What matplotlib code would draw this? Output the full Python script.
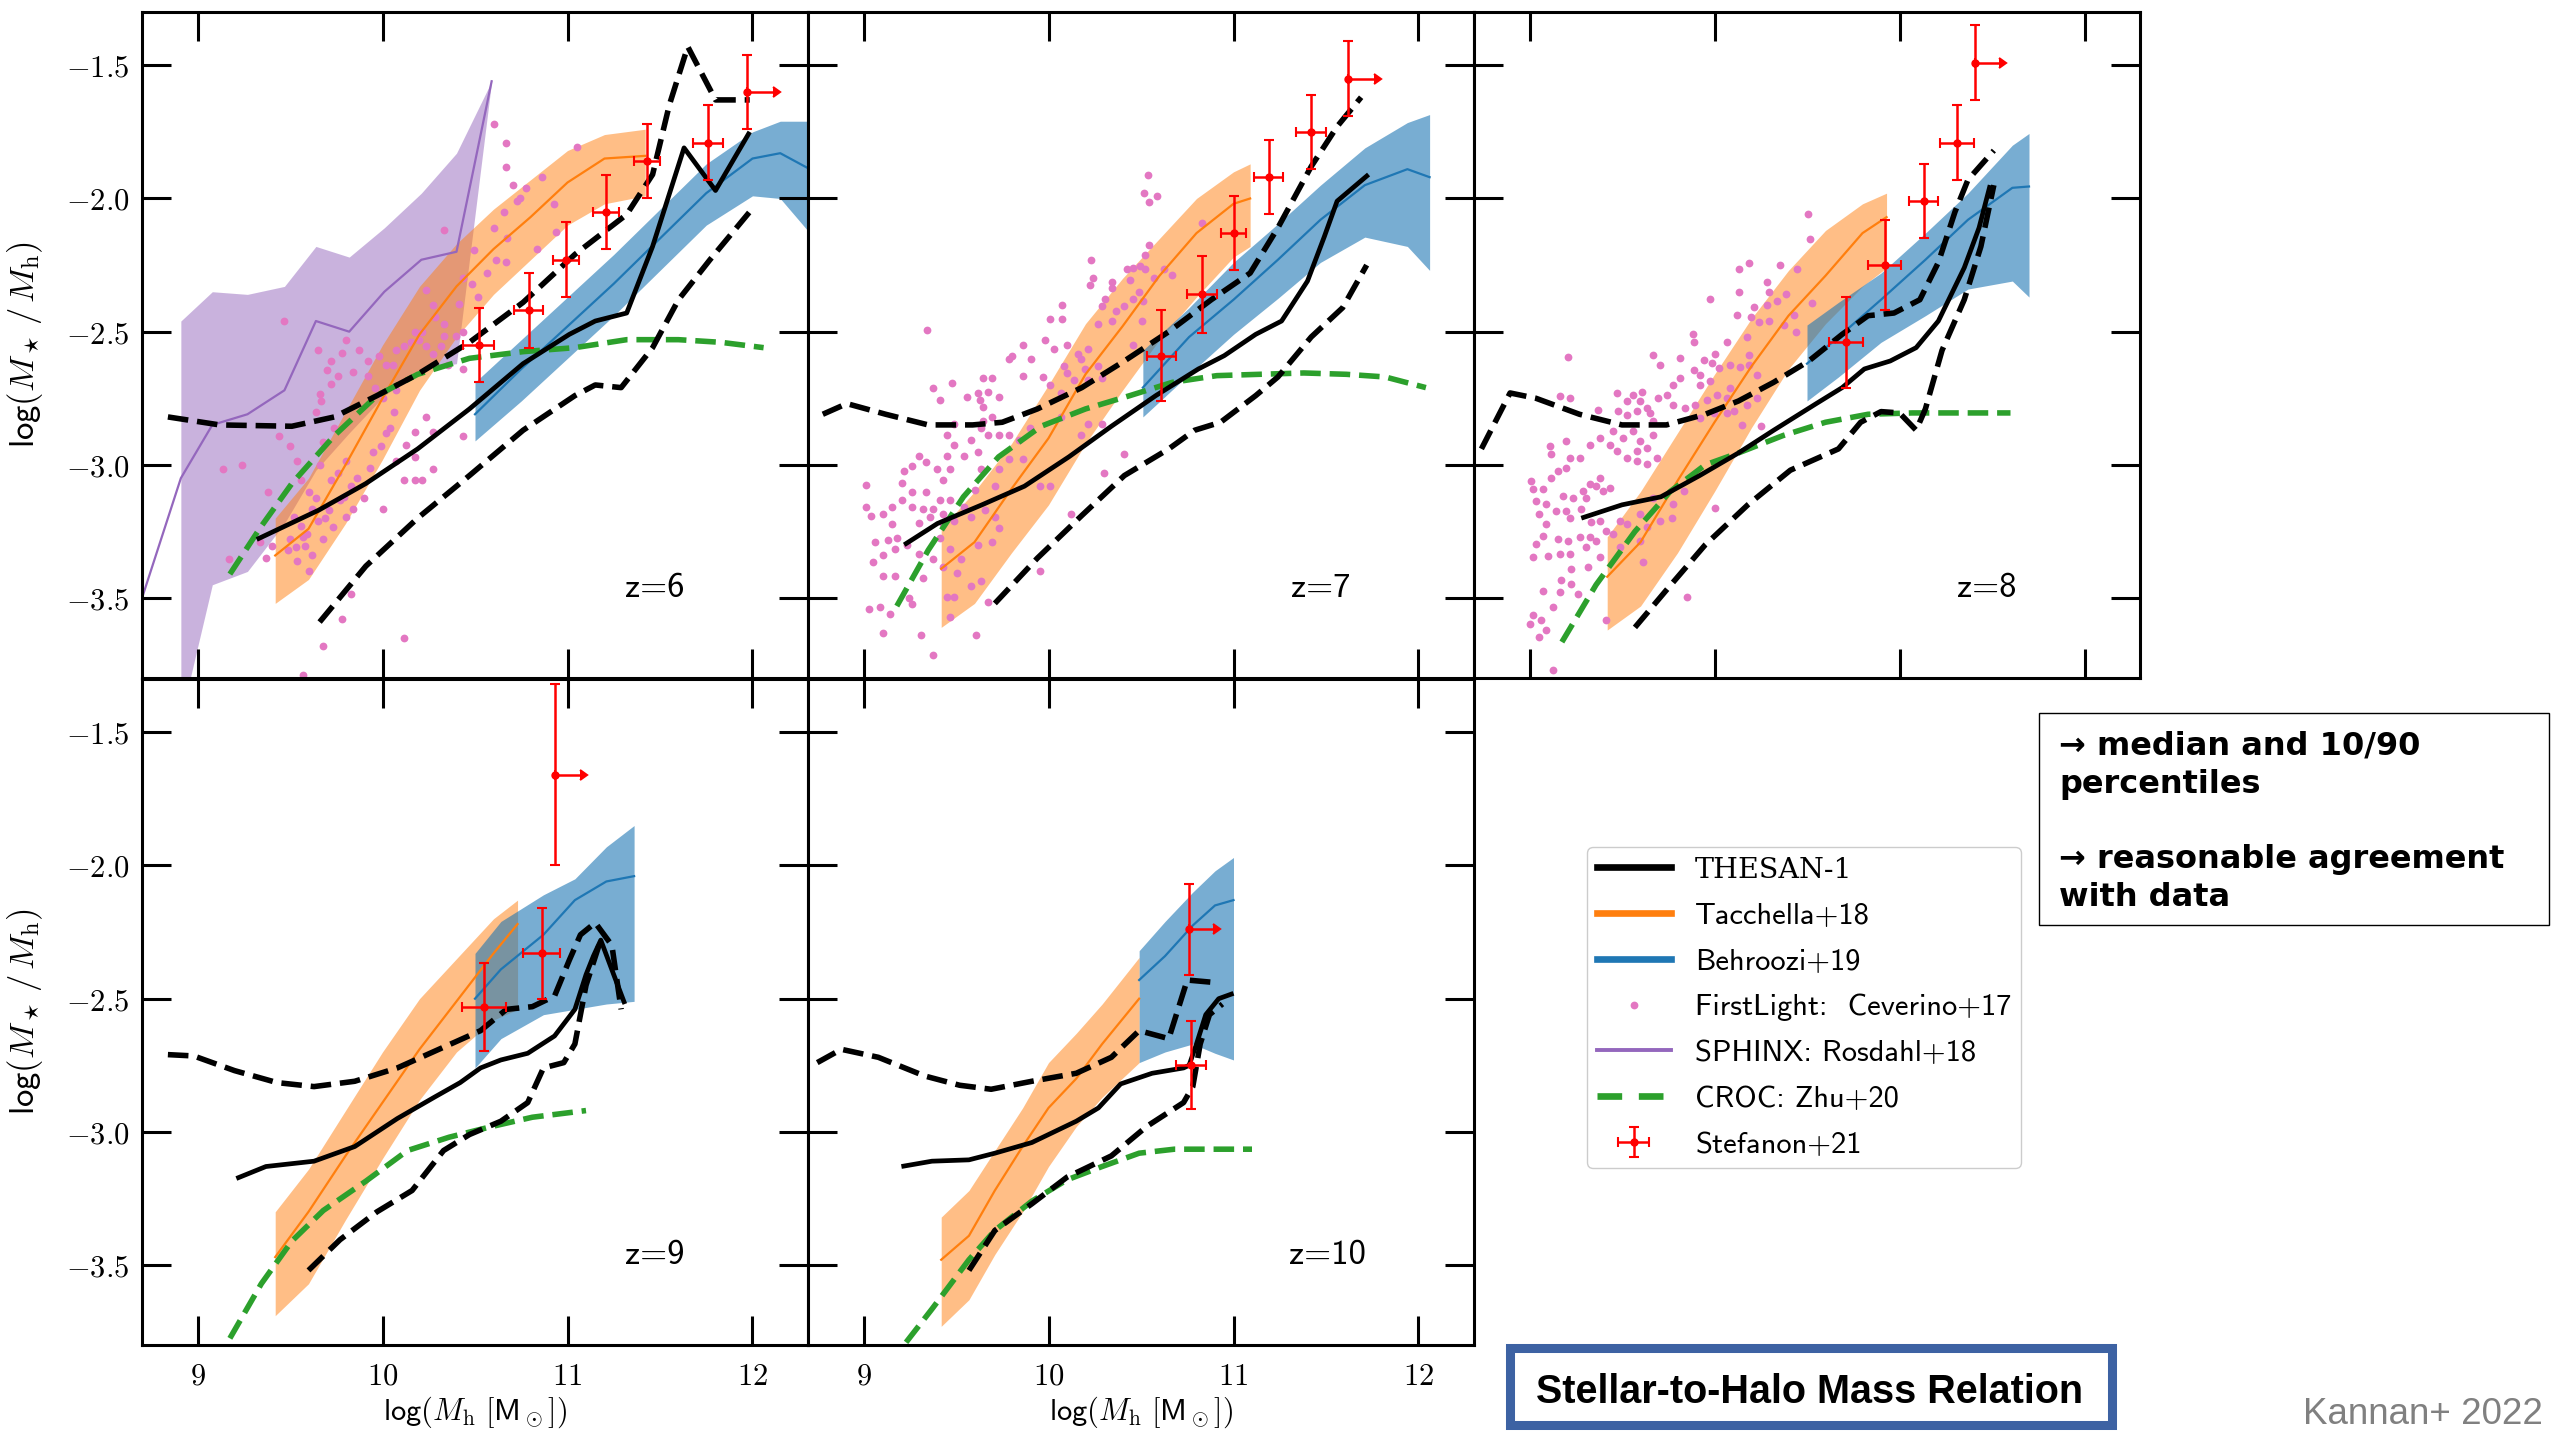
import matplotlib
matplotlib.use("Agg")
import matplotlib.pyplot as plt
from matplotlib.lines import Line2D
from matplotlib.patches import Rectangle

plt.rcParams['mathtext.fontset'] = 'cm'

# ============================ DATA ============================
redshifts = [6, 7, 8, 9, 10]
x_ticks = [9, 10, 11, 12]
x_ticklabels = ['$9$', '$10$', '$11$', '$12$']
y_ticks = [-3.5, -3.0, -2.5, -2.0, -1.5]
y_ticklabels = ['$-3.5$', '$-3.0$', '$-2.5$', '$-2.0$', '$-1.5$']

# --- THESAN-1 median and 10/90 percentiles ---
z6_med_x = [9.32, 9.655, 9.91, 10.19, 10.47, 10.76, 11.01, 11.15, 11.32, 11.46, 11.63, 11.80, 11.985]
z6_med_y = [-3.28, -3.17, -3.07, -2.94, -2.79, -2.62, -2.51, -2.46, -2.43, -2.18, -1.81, -1.97, -1.75]
z6_p90_x = [8.84, 9.12, 9.51, 9.74, 9.97, 10.19, 10.47, 10.76, 11.04, 11.32, 11.46, 11.55, 11.65, 11.80, 11.985]
z6_p90_y = [-2.82, -2.85, -2.855, -2.82, -2.74, -2.66, -2.54, -2.39, -2.21, -2.06, -1.91, -1.65, -1.43, -1.63, -1.63]
z6_p10_x = [9.66, 9.91, 10.19, 10.47, 10.76, 11.04, 11.15, 11.29, 11.46, 11.60, 11.77, 11.985]
z6_p10_y = [-3.59, -3.38, -3.20, -3.04, -2.87, -2.74, -2.70, -2.71, -2.56, -2.38, -2.23, -2.05]

z7_med_x = [9.22, 9.40, 9.64, 9.87, 10.11, 10.34, 10.58, 10.81, 10.95, 11.12, 11.26, 11.40, 11.49, 11.56, 11.73]
z7_med_y = [-3.30, -3.22, -3.15, -3.08, -2.97, -2.855, -2.74, -2.64, -2.59, -2.51, -2.46, -2.31, -2.145, -2.01, -1.91]
z7_p90_x = [8.78, 8.91, 9.12, 9.35, 9.59, 9.75, 9.94, 10.18, 10.41, 10.65, 10.88, 11.09, 11.24, 11.42, 11.56, 11.69]
z7_p90_y = [-2.81, -2.77, -2.81, -2.85, -2.85, -2.84, -2.79, -2.71, -2.61, -2.50, -2.38, -2.28, -2.11, -1.88, -1.73, -1.62]
z7_p10_x = [9.71, 9.94, 10.18, 10.41, 10.65, 10.79, 10.93, 11.12, 11.24, 11.42, 11.59, 11.72]
z7_p10_y = [-3.52, -3.35, -3.19, -3.04, -2.94, -2.87, -2.84, -2.74, -2.67, -2.52, -2.41, -2.25]

z8_med_x = [9.28, 9.50, 9.71, 9.92, 10.13, 10.32, 10.55, 10.69, 10.81, 10.95, 11.09, 11.21, 11.35, 11.43, 11.49]
z8_med_y = [-3.20, -3.15, -3.12, -3.04, -2.955, -2.87, -2.77, -2.71, -2.64, -2.61, -2.56, -2.46, -2.26, -2.11, -1.95]
z8_p90_x = [8.74, 8.895, 9.035, 9.27, 9.50, 9.74, 9.95, 10.13, 10.32, 10.51, 10.69, 10.83, 10.97, 11.11, 11.21, 11.30, 11.37, 11.51]
z8_p90_y = [-2.94, -2.73, -2.75, -2.81, -2.85, -2.85, -2.81, -2.76, -2.69, -2.61, -2.51, -2.44, -2.43, -2.38, -2.24, -2.05, -1.93, -1.82]
z8_p10_x = [9.57, 9.74, 9.95, 10.18, 10.41, 10.67, 10.79, 10.90, 11.00, 11.09, 11.14, 11.23, 11.35, 11.44, 11.51]
z8_p10_y = [-3.61, -3.47, -3.30, -3.15, -3.02, -2.94, -2.84, -2.80, -2.805, -2.87, -2.79, -2.57, -2.38, -2.18, -1.95]

z9_med_x = [9.21, 9.37, 9.63, 9.85, 10.08, 10.28, 10.42, 10.53, 10.64, 10.785, 10.93, 11.04, 11.10, 11.14, 11.18, 11.25, 11.31]
z9_med_y = [-3.175, -3.13, -3.11, -3.055, -2.95, -2.87, -2.815, -2.76, -2.73, -2.705, -2.64, -2.54, -2.41, -2.34, -2.28, -2.41, -2.52]
z9_p90_x = [8.84, 8.98, 9.20, 9.43, 9.63, 9.85, 10.08, 10.305, 10.53, 10.67, 10.81, 10.93, 11.01, 11.07, 11.15, 11.24, 11.29]
z9_p90_y = [-2.71, -2.715, -2.77, -2.815, -2.83, -2.81, -2.76, -2.69, -2.62, -2.54, -2.53, -2.49, -2.355, -2.26, -2.215, -2.30, -2.54]
z9_p10_x = [9.60, 9.77, 9.97, 10.16, 10.33, 10.47, 10.64, 10.785, 10.87, 10.98, 11.04, 11.10, 11.17]
z9_p10_y = [-3.52, -3.405, -3.30, -3.22, -3.07, -3.01, -2.96, -2.89, -2.76, -2.74, -2.67, -2.45, -2.30]

z10_med_x = [9.205, 9.37, 9.57, 9.71, 9.91, 10.15, 10.27, 10.39, 10.56, 10.73, 10.76, 10.80, 10.85, 10.92, 11.0]
z10_med_y = [-3.13, -3.11, -3.105, -3.08, -3.04, -2.96, -2.91, -2.82, -2.78, -2.76, -2.75, -2.67, -2.56, -2.50, -2.48]
z10_p90_x = [8.75, 8.88, 9.08, 9.33, 9.52, 9.69, 9.91, 10.15, 10.34, 10.49, 10.65, 10.70, 10.75, 10.91]
z10_p90_y = [-2.74, -2.69, -2.72, -2.79, -2.825, -2.84, -2.81, -2.78, -2.72, -2.62, -2.65, -2.54, -2.43, -2.44]
z10_p10_x = [9.57, 9.71, 9.91, 10.10, 10.34, 10.53, 10.73, 10.78, 10.82, 10.87, 10.94]
z10_p10_y = [-3.52, -3.37, -3.27, -3.17, -3.09, -2.98, -2.89, -2.83, -2.67, -2.56, -2.52]

# --- Tacchella+18 (median and band) ---
tac_z6_x = [9.42, 9.6, 9.8, 10.0, 10.2, 10.4, 10.6, 10.8, 11.0, 11.2, 11.42]
tac_z6_med = [-3.34, -3.24, -3.00, -2.75, -2.51, -2.33, -2.19, -2.07, -1.94, -1.85, -1.84]
tac_z6_hi = [-3.20, -3.05, -2.80, -2.55, -2.33, -2.17, -2.04, -1.93, -1.82, -1.76, -1.74]
tac_z6_lo = [-3.52, -3.43, -3.22, -2.98, -2.72, -2.52, -2.36, -2.23, -2.10, -2.02, -1.99]
tac_z7_x = [9.42, 9.6, 9.8, 10.0, 10.2, 10.4, 10.6, 10.8, 11.0, 11.09]
tac_z7_med = [-3.39, -3.29, -3.09, -2.90, -2.66, -2.48, -2.29, -2.13, -2.02, -2.00]
tac_z7_hi = [-3.24, -3.10, -2.92, -2.70, -2.47, -2.30, -2.15, -2.00, -1.90, -1.87]
tac_z7_lo = [-3.61, -3.52, -3.33, -3.15, -2.92, -2.72, -2.53, -2.37, -2.22, -2.18]
tac_z8_x = [9.42, 9.6, 9.8, 10.0, 10.2, 10.4, 10.6, 10.8, 10.93]
tac_z8_med = [-3.42, -3.29, -3.06, -2.84, -2.63, -2.44, -2.29, -2.13, -2.07]
tac_z8_hi = [-3.27, -3.10, -2.88, -2.66, -2.45, -2.27, -2.12, -2.02, -1.98]
tac_z8_lo = [-3.62, -3.53, -3.33, -3.10, -2.86, -2.64, -2.47, -2.33, -2.26]
tac_z9_x = [9.42, 9.6, 9.8, 10.0, 10.2, 10.4, 10.6, 10.73]
tac_z9_med = [-3.47, -3.30, -3.09, -2.89, -2.69, -2.51, -2.33, -2.22]
tac_z9_hi = [-3.30, -3.14, -2.92, -2.70, -2.50, -2.35, -2.20, -2.13]
tac_z9_lo = [-3.69, -3.57, -3.33, -3.10, -2.88, -2.70, -2.58, -2.54]
tac_z10_x = [9.42, 9.57, 9.71, 9.86, 10.0, 10.15, 10.29, 10.49]
tac_z10_med = [-3.48, -3.39, -3.22, -3.055, -2.91, -2.80, -2.67, -2.50]
tac_z10_hi = [-3.32, -3.22, -3.07, -2.91, -2.74, -2.63, -2.52, -2.345]
tac_z10_lo = [-3.73, -3.63, -3.46, -3.30, -3.13, -2.98, -2.87, -2.74]

# --- Behroozi+19 (median and band) ---
beh_z6_x = [10.5, 10.75, 11.0, 11.25, 11.5, 11.75, 12.0, 12.15, 12.31]
beh_z6_med = [-2.81, -2.64, -2.48, -2.32, -2.15, -1.98, -1.85, -1.83, -1.89]
beh_z6_hi = [-2.69, -2.53, -2.37, -2.21, -2.04, -1.87, -1.75, -1.71, -1.71]
beh_z6_lo = [-2.91, -2.76, -2.60, -2.44, -2.27, -2.10, -1.99, -2.00, -2.13]
beh_z7_x = [10.51, 10.76, 11.0, 11.24, 11.47, 11.71, 11.94, 12.06]
beh_z7_med = [-2.71, -2.52, -2.38, -2.23, -2.08, -1.95, -1.89, -1.92]
beh_z7_hi = [-2.57, -2.41, -2.24, -2.095, -1.95, -1.81, -1.715, -1.685]
beh_z7_lo = [-2.82, -2.66, -2.51, -2.375, -2.24, -2.145, -2.18, -2.27]
beh_z8_x = [10.50, 10.67, 10.90, 11.14, 11.37, 11.61, 11.70]
beh_z8_med = [-2.62, -2.52, -2.38, -2.23, -2.08, -1.96, -1.955]
beh_z8_hi = [-2.475, -2.39, -2.28, -2.13, -1.98, -1.80, -1.756]
beh_z8_lo = [-2.76, -2.67, -2.54, -2.44, -2.34, -2.31, -2.37]
beh_z9_x = [10.50, 10.64, 10.87, 11.04, 11.21, 11.36]
beh_z9_med = [-2.50, -2.39, -2.26, -2.13, -2.06, -2.04]
beh_z9_hi = [-2.33, -2.21, -2.11, -2.05, -1.93, -1.85]
beh_z9_lo = [-2.76, -2.65, -2.56, -2.54, -2.52, -2.51]
beh_z10_x = [10.49, 10.63, 10.78, 10.90, 11.0]
beh_z10_med = [-2.43, -2.34, -2.225, -2.15, -2.13]
beh_z10_hi = [-2.32, -2.21, -2.10, -2.02, -1.97]
beh_z10_lo = [-2.74, -2.70, -2.67, -2.705, -2.73]

# --- CROC: Zhu+20 ---
croc_z6_x = [9.175, 9.34, 9.51, 9.74, 9.97, 10.19, 10.47, 10.76, 11.04, 11.32, 11.60, 11.83, 12.06]
croc_z6_y = [-3.41, -3.235, -3.07, -2.89, -2.74, -2.66, -2.60, -2.575, -2.56, -2.53, -2.53, -2.54, -2.56]
croc_z7_x = [9.18, 9.35, 9.54, 9.73, 9.96, 10.20, 10.44, 10.67, 10.91, 11.14, 11.38, 11.61, 11.82, 12.04]
croc_z7_y = [-3.53, -3.32, -3.12, -2.97, -2.855, -2.79, -2.74, -2.69, -2.665, -2.66, -2.655, -2.66, -2.67, -2.71]
croc_z8_x = [9.175, 9.36, 9.57, 9.76, 9.95, 10.13, 10.37, 10.60, 10.83, 11.07, 11.30, 11.60]
croc_z8_y = [-3.665, -3.45, -3.25, -3.10, -3.00, -2.955, -2.89, -2.84, -2.81, -2.805, -2.805, -2.805]
croc_z9_x = [9.175, 9.345, 9.51, 9.68, 9.91, 10.135, 10.36, 10.59, 10.81, 11.10]
croc_z9_y = [-3.775, -3.57, -3.41, -3.295, -3.185, -3.07, -3.02, -2.98, -2.945, -2.92]
croc_z10_x = [9.23, 9.37, 9.57, 9.71, 9.91, 10.10, 10.29, 10.49, 10.68, 10.87, 11.10]
croc_z10_y = [-3.79, -3.665, -3.48, -3.37, -3.26, -3.18, -3.13, -3.08, -3.065, -3.065, -3.065]

# --- SPHINX: Rosdahl+18 (z=6 only) ---
sphinx_x = [8.70, 8.91, 9.08, 9.27, 9.47, 9.64, 9.82, 10.01, 10.21, 10.40, 10.59]
sphinx_y = [-3.50, -3.05, -2.85, -2.81, -2.72, -2.46, -2.50, -2.35, -2.23, -2.20, -1.56]
sphinx_band_x = [8.91, 9.08, 9.27, 9.47, 9.64, 9.82, 10.01, 10.21, 10.40, 10.59]
sphinx_hi = [-2.46, -2.35, -2.36, -2.33, -2.18, -2.22, -2.11, -1.98, -1.83, -1.56]
sphinx_lo = [-3.95, -3.45, -3.40, -3.22, -3.02, -2.88, -2.74, -2.64, -2.62, -1.56]

# --- Stefanon+21 ---
ste_z6_x = [10.52, 10.79, 10.99, 11.21, 11.43, 11.76]
ste_z6_y = [-2.55, -2.42, -2.23, -2.05, -1.86, -1.79]
ste_z6_xerr = [0.085, 0.08, 0.07, 0.07, 0.07, 0.08]
ste_z6_yerr = [0.14, 0.14, 0.14, 0.14, 0.14, 0.14]
ste_z6_lim = [11.97, -1.60, 0.14, 0.14]       # x, y, arrow length, yerr
ste_z7_x = [10.61, 10.83, 11.00, 11.19, 11.42]
ste_z7_y = [-2.59, -2.36, -2.13, -1.92, -1.75]
ste_z7_xerr = [0.08, 0.08, 0.07, 0.08, 0.08]
ste_z7_yerr = [0.17, 0.145, 0.14, 0.14, 0.14]
ste_z7_lim = [11.62, -1.55, 0.14, 0.14]
ste_z8_x = [10.71, 10.92, 11.13, 11.31]
ste_z8_y = [-2.54, -2.25, -2.01, -1.79]
ste_z8_xerr = [0.09, 0.09, 0.08, 0.09]
ste_z8_yerr = [0.17, 0.17, 0.14, 0.14]
ste_z8_lim = [11.41, -1.49, 0.13, 0.14]
ste_z9_x = [10.55, 10.86]
ste_z9_y = [-2.53, -2.33]
ste_z9_xerr = [0.12, 0.10]
ste_z9_yerr = [0.165, 0.17]
ste_z9_lim = [10.935, -1.66, 0.13, 0.34]
ste_z10_x = [10.77]
ste_z10_y = [-2.75]
ste_z10_xerr = [0.08]
ste_z10_yerr = [0.165]
ste_z10_lim = [10.76, -2.24, 0.13, 0.17]

# --- FirstLight: Ceverino+17 (z=6,7,8) ---
fl_z6_x = [10.605, 10.665, 11.05, 10.67, 10.705, 10.86, 10.775, 10.745, 10.725, 10.655,
           10.925, 10.33, 10.605, 10.94, 10.675, 10.835, 10.615, 10.665, 10.495, 10.565,
           10.485, 10.435, 10.515, 10.415, 10.235, 10.275, 10.335, 10.285, 9.47, 9.80,
           9.65, 9.72, 9.78, 9.875, 9.92, 9.98, 10.02, 10.075, 10.115, 10.155,
           10.195, 10.235, 10.275, 10.315, 10.335, 10.395, 10.435, 10.175, 10.215, 10.055,
           9.92, 9.84, 9.76, 9.70, 9.72, 9.66, 9.67, 9.64, 9.96, 10.0,
           10.075, 10.355, 10.435, 10.06, 10.04, 10.02, 9.99, 9.95, 9.93, 9.86,
           9.83, 9.79, 9.77, 9.71, 9.69, 9.65, 9.59, 9.57, 9.53, 9.49,
           10.235, 10.175, 10.275, 10.125, 10.175, 10.075, 10.115, 10.175, 10.215, 10.0,
           9.90, 9.72, 9.76, 9.66, 9.80, 9.68, 9.74, 9.44, 9.50, 9.54,
           9.56, 9.60, 9.64, 9.62, 9.52, 9.56, 9.50, 9.58, 9.54, 9.60,
           9.62, 9.68, 9.73, 9.80, 9.84, 9.38, 9.40, 9.34, 9.37, 9.17,
           9.14, 9.24, 10.435, 10.275, 10.115, 9.68, 9.57, 9.78, 9.83]
fl_z6_y = [-1.72, -1.79, -1.805, -1.88, -1.95, -1.92, -1.96, -2.00, -2.01, -2.05,
           -2.02, -2.12, -2.11, -2.125, -2.15, -2.19, -2.23, -2.24, -2.195, -2.28,
           -2.32, -2.30, -2.37, -2.395, -2.345, -2.40, -2.47, -2.445, -2.46, -2.53,
           -2.57, -2.61, -2.58, -2.57, -2.61, -2.59, -2.625, -2.57, -2.555, -2.54,
           -2.53, -2.555, -2.585, -2.555, -2.515, -2.515, -2.50, -2.50, -2.50, -2.625,
           -2.665, -2.65, -2.665, -2.645, -2.695, -2.735, -2.76, -2.80, -2.71, -2.75,
           -2.72, -2.625, -2.64, -2.80, -2.86, -2.88, -2.93, -2.95, -3.01, -3.05,
           -3.08, -3.12, -3.13, -3.17, -3.20, -3.21, -3.26, -3.27, -3.31, -3.32,
           -2.82, -2.875, -2.875, -2.925, -2.97, -2.985, -3.055, -3.055, -3.055, -3.165,
           -3.125, -3.055, -3.03, -3.0, -2.985, -2.915, -2.86, -2.89, -2.93, -2.985,
           -3.055, -3.10, -3.125, -3.165, -3.195, -3.23, -3.28, -3.305, -3.36, -3.40,
           -3.34, -3.28, -3.235, -3.195, -3.165, -3.10, -3.305, -3.29, -3.35, -3.355,
           -3.015, -3.0, -2.89, -3.015, -3.65, -3.68, -3.79, -3.58, -3.485]
fl_z7_x = [10.536, 10.518, 10.586, 10.544, 9.343, 10.829, 10.545, 10.521, 10.229, 10.242,
           10.223, 10.341, 10.344, 10.424, 10.456, 10.493, 10.521, 10.627, 10.670, 10.568,
           10.443, 10.488, 10.456, 10.512, 10.307, 10.289, 10.074, 10.009, 10.074, 10.363,
           10.410, 10.270, 10.344, 10.503, 10.456, 9.981, 10.028, 10.102, 10.158, 10.177,
           10.214, 10.195, 10.214, 10.270, 10.289, 10.084, 9.860, 9.804, 9.786, 9.907,
           9.972, 9.860, 10.009, 10.065, 10.102, 10.140, 9.646, 9.693, 9.376, 9.479,
           9.562, 9.618, 9.628, 9.674, 9.730, 9.646, 9.693, 9.646, 9.637, 9.674,
           9.488, 9.413, 9.451, 9.581, 9.730, 9.786, 9.842, 9.898, 10.065, 10.214,
           10.177, 10.289, 10.410, 10.298, 10.121, 9.953, 10.009, 9.953, 9.860, 9.786,
           9.730, 9.711, 9.618, 9.637, 9.544, 9.488, 9.451, 9.469, 9.432, 9.395,
           9.339, 9.302, 9.264, 9.218, 9.209, 9.264, 9.339, 9.413, 9.469, 9.209,
           9.153, 9.264, 9.320, 9.376, 9.432, 9.013, 9.013, 9.041, 9.106, 9.060,
           9.134, 9.181, 9.153, 9.302, 9.358, 9.432, 9.488, 9.544, 9.600, 9.655,
           9.711, 9.730, 9.693, 9.618, 9.581, 9.525, 9.469, 9.413, 9.376, 9.302,
           9.236, 9.171, 9.106, 9.050, 9.106, 9.171, 9.320, 9.432, 9.506, 9.581,
           9.637, 9.674, 9.488, 9.469, 9.264, 9.246, 9.143, 9.088, 9.032, 9.106,
           9.311, 9.376, 9.609, 9.451]
fl_z7_y = [-1.911, -1.978, -1.992, -2.014, -2.495, -2.092, -2.176, -2.212, -2.230, -2.299,
           -2.325, -2.312, -2.337, -2.266, -2.260, -2.253, -2.264, -2.266, -2.286, -2.299,
           -2.305, -2.350, -2.376, -2.383, -2.376, -2.402, -2.398, -2.451, -2.451, -2.422,
           -2.402, -2.473, -2.460, -2.460, -2.551, -2.531, -2.564, -2.551, -2.583, -2.603,
           -2.564, -2.641, -2.680, -2.628, -2.674, -2.628, -2.551, -2.590, -2.603, -2.603,
           -2.671, -2.665, -2.700, -2.732, -2.654, -2.680, -2.674, -2.674, -2.712, -2.693,
           -2.745, -2.732, -2.758, -2.725, -2.745, -2.784, -2.822, -2.835, -2.861, -2.887,
           -2.848, -2.758, -2.887, -2.906, -2.887, -2.887, -2.906, -2.861, -2.822, -2.848,
           -2.887, -2.848, -2.958, -3.029, -3.184, -3.398, -3.081, -3.081, -2.977, -2.977,
           -3.016, -3.081, -2.952, -3.016, -2.965, -2.926, -2.965, -3.016, -3.055, -3.016,
           -2.990, -2.965, -3.003, -3.023, -3.068, -3.100, -3.100, -3.133, -3.133, -3.133,
           -3.159, -3.159, -3.165, -3.165, -3.184, -3.074, -3.159, -3.191, -3.184, -3.288,
           -3.281, -3.275, -3.223, -3.217, -3.197, -3.223, -3.210, -3.159, -3.094, -3.171,
           -3.197, -3.236, -3.288, -3.301, -3.197, -3.353, -3.314, -3.275, -3.353, -3.333,
           -3.301, -3.314, -3.340, -3.365, -3.417, -3.417, -3.424, -3.385, -3.404, -3.456,
           -3.437, -3.514, -3.495, -3.572, -3.521, -3.501, -3.560, -3.534, -3.540, -3.630,
           -3.637, -3.715, -3.637, -3.495]
fl_z8_x = [10.506, 10.515, 10.186, 10.131, 10.354, 10.444, 9.977, 10.131, 10.285, 10.294,
           10.385, 10.339, 10.213, 10.285, 10.529, 10.122, 10.195, 10.240, 10.294, 10.430,
           10.376, 10.439, 9.883, 9.887, 10.005, 10.068, 10.176, 9.208, 9.670, 9.706,
           9.814, 9.941, 9.986, 9.887, 9.923, 9.923, 9.977, 10.023, 10.086, 10.140,
           10.186, 10.186, 10.231, 10.086, 10.068, 10.014, 9.959, 9.814, 9.778, 9.742,
           9.697, 9.633, 9.597, 9.561, 9.525, 9.471, 9.606, 9.163, 9.217, 9.371,
           9.480, 9.525, 9.579, 9.652, 9.670, 9.778, 9.842, 9.896, 9.923, 9.995,
           10.068, 10.104, 10.176, 10.231, 10.149, 10.249, 9.452, 9.434, 9.471, 9.507,
           9.561, 9.597, 9.579, 9.633, 9.670, 9.688, 9.579, 9.633, 9.525, 9.380,
           9.326, 9.199, 9.109, 9.118, 9.217, 9.271, 9.199, 9.154, 9.118, 9.072,
           9.018, 9.009, 9.036, 9.090, 9.181, 9.235, 9.290, 9.326, 9.380, 9.362,
           9.398, 9.434, 9.308, 9.281, 9.199, 9.145, 9.090, 9.054, 9.217, 9.335,
           9.380, 9.416, 9.326, 9.271, 9.208, 9.154, 9.072, 9.036, 9.018, 9.100,
           9.163, 9.217, 9.308, 9.362, 9.452, 9.489, 9.525, 9.597, 9.633, 9.706,
           9.769, 9.597, 9.489, 9.380, 9.317, 9.226, 9.172, 9.226, 9.262, 9.163,
           9.072, 9.127, 9.018, 9.063, 9.000, 9.090, 9.054, 9.127, 9.615, 9.851,
           10.005, 9.416, 9.670, 9.778, 9.833]
fl_z8_y = [-2.059, -2.152, -2.242, -2.264, -2.249, -2.264, -2.378, -2.351, -2.314, -2.351,
           -2.357, -2.386, -2.407, -2.401, -2.391, -2.438, -2.444, -2.463, -2.461, -2.438,
           -2.476, -2.500, -2.510, -2.538, -2.585, -2.538, -2.519, -2.594, -2.588, -2.625,
           -2.600, -2.606, -2.619, -2.644, -2.662, -2.700, -2.687, -2.637, -2.625, -2.631,
           -2.588, -2.625, -2.662, -2.712, -2.749, -2.737, -2.756, -2.675, -2.700, -2.737,
           -2.749, -2.787, -2.762, -2.737, -2.762, -2.731, -2.725, -2.743, -2.749, -2.793,
           -2.799, -2.812, -2.799, -2.806, -2.837, -2.774, -2.787, -2.774, -2.824, -2.806,
           -2.806, -2.799, -2.774, -2.749, -2.849, -2.855, -2.874, -2.924, -2.949, -2.899,
           -2.874, -2.911, -2.949, -2.936, -2.886, -2.974, -2.986, -2.998, -2.974, -2.899,
           -2.924, -2.911, -2.930, -2.961, -2.974, -2.974, -3.011, -3.023, -3.048, -3.092,
           -3.092, -3.061, -3.135, -3.148, -3.117, -3.123, -3.098, -3.073, -3.048, -3.079,
           -3.098, -3.086, -3.123, -3.167, -3.173, -3.173, -3.223, -3.185, -3.198, -3.216,
           -3.210, -3.247, -3.272, -3.272, -3.285, -3.279, -3.266, -3.297, -3.347, -3.341,
           -3.335, -3.335, -3.310, -3.285, -3.260, -3.210, -3.223, -3.185, -3.235, -3.210,
           -3.198, -3.285, -3.310, -3.347, -3.384, -3.391, -3.434, -3.447, -3.484, -3.478,
           -3.472, -3.534, -3.565, -3.584, -3.596, -3.621, -3.646, -3.770, -3.366, -3.497,
           -3.160, -3.584, -3.123, -3.148, -3.098]

legend_labels = ['THESAN-1', 'Tacchella+18', 'Behroozi+19', 'FirstLight:  Ceverino+17',
                 'SPHINX: Rosdahl+18', 'CROC: Zhu+20', 'Stefanon+21']
note_text = "\u2192 median and 10/90\npercentiles\n\n\u2192 reasonable agreement\nwith data"
title_text = "Stellar-to-Halo Mass Relation"
credit_text = "Kannan+ 2022"

# ============================ FIGURE ============================
FW, FH = 2552, 1440
fig = plt.figure(figsize=(FW / 100, FH / 100), dpi=100)
fig.patch.set_facecolor('white')

panel_w = 666 / FW
panel_h = 666 / FH
col_left = [142 / FW, 808 / FW, 1474 / FW]
row_bottom = [1 - 678 / FH, 1 - 1345 / FH]
layout = {6: (0, 0), 7: (0, 1), 8: (0, 2), 9: (1, 0), 10: (1, 1)}

G = globals()
err_handle = None
for z in redshifts:
    r, c = layout[z]
    ax = fig.add_axes([col_left[c], row_bottom[r], panel_w, panel_h])
    k = 'z%d' % z

    # bands
    if z == 6:
        ax.fill_between(sphinx_band_x, sphinx_lo, sphinx_hi, color='tab:purple', alpha=0.5, lw=0, zorder=1)
    ax.fill_between(G['tac_' + k + '_x'], G['tac_' + k + '_lo'], G['tac_' + k + '_hi'],
                    color='tab:orange', alpha=0.5, lw=0, zorder=1.1)
    ax.fill_between(G['beh_' + k + '_x'], G['beh_' + k + '_lo'], G['beh_' + k + '_hi'],
                    color='tab:blue', alpha=0.6, lw=0, zorder=1.2)

    # FirstLight scatter
    if z in (6, 7, 8):
        fx = G['fl_' + k + '_x']; fy = G['fl_' + k + '_y']
        n = min(len(fx), len(fy))
        ax.plot(fx[:n], fy[:n], ls='none', marker='o', ms=5.6, mew=0, color='tab:pink', zorder=2)

    # thin median lines
    if z == 6:
        ax.plot(sphinx_x, sphinx_y, color='tab:purple', lw=1.6, zorder=2.5)
    ax.plot(G['tac_' + k + '_x'], G['tac_' + k + '_med'], color='tab:orange', lw=1.6, zorder=2.5)
    ax.plot(G['beh_' + k + '_x'], G['beh_' + k + '_med'], color='tab:blue', lw=1.6, zorder=2.5)

    # CROC
    ax.plot(G['croc_' + k + '_x'], G['croc_' + k + '_y'], color='tab:green', lw=4, ls='--', zorder=3)

    # THESAN
    ax.plot(G[k + '_med_x'], G[k + '_med_y'], color='k', lw=3.4, zorder=4, solid_capstyle='butt')
    ax.plot(G[k + '_p90_x'], G[k + '_p90_y'], color='k', lw=4, ls='--', zorder=4)
    ax.plot(G[k + '_p10_x'], G[k + '_p10_y'], color='k', lw=4, ls='--', zorder=4)

    # Stefanon+21
    eb = ax.errorbar(G['ste_' + k + '_x'], G['ste_' + k + '_y'],
                     xerr=G['ste_' + k + '_xerr'], yerr=G['ste_' + k + '_yerr'],
                     fmt='o', color='red', ms=5, elinewidth=1.8, capsize=3.5, capthick=1.5, zorder=5)
    if err_handle is None:
        err_handle = eb
    lx, ly, la, lye = G['ste_' + k + '_lim']
    ax.errorbar([lx], [ly], xerr=[la], yerr=[lye], xlolims=True,
                fmt='o', color='red', ms=5, elinewidth=1.8, capsize=3.5, capthick=1.5, zorder=5)

    # axes styling
    ax.set_xlim(8.7, 12.3)
    ax.set_ylim(-3.8, -1.3)
    ax.set_xticks(x_ticks, labels=x_ticklabels)
    ax.set_yticks(y_ticks, labels=y_ticklabels)
    ax.tick_params(direction='in', length=21, width=2.2, top=True, right=True,
                   labelsize=22, color='k')
    ax.tick_params(axis='y', pad=9)
    ax.tick_params(axis='x', pad=12)
    for s in ax.spines.values():
        s.set_linewidth(2.2)
    if c != 0:
        ax.tick_params(labelleft=False)
    else:
        ax.set_ylabel(r'$\mathsf{log}(M_\star\,/\,M_\mathrm{h})$', fontsize=25)
        ax.yaxis.set_label_coords(-0.146, 0.5)
    if r == 0:
        ax.tick_params(labelbottom=False)
    else:
        ax.set_xlabel(r'$\mathsf{log}(M_\mathrm{h}\ [\mathsf{M}_\odot])$', fontsize=22)
        ax.xaxis.set_label_coords(0.5, -0.075)
    ax.text(0.77 if z < 10 else 0.78, 0.135, 'z=%d' % z, transform=ax.transAxes,
            ha='center', va='center', fontsize=25, family='cmss10')

# ============================ LEGEND ============================
handles = [Line2D([], [], color='k', lw=4.8),
           Line2D([], [], color='tab:orange', lw=4.8),
           Line2D([], [], color='tab:blue', lw=4.8),
           Line2D([], [], color='tab:pink', ls='none', marker='o', ms=5.6, mew=0),
           Line2D([], [], color='tab:purple', lw=2.8),
           Line2D([], [], color='tab:green', lw=4.8, dashes=(3.7, 2.5)),
           err_handle]
leg = fig.legend(handles, legend_labels, loc='upper left',
                 bbox_to_anchor=(1587 / FW, 1 - 847 / FH), bbox_transform=fig.transFigure,
                 prop={'family': 'cmss10', 'size': 22}, frameon=True, fancybox=True,
                 edgecolor='0.8', framealpha=1.0, handlelength=2.42, handletextpad=0.8,
                 labelspacing=0.6, borderpad=0.32, borderaxespad=0.0)
t0 = leg.get_texts()[0]
t0.set_fontfamily('DejaVu Serif')
t0.set_fontsize(20.5)

# ============================ ANNOTATIONS ============================
fig.patches.append(Rectangle((2039 / FW, 1 - 925 / FH), 510 / FW, 212 / FH,
                             transform=fig.transFigure, fill=False, edgecolor='k', lw=1.0))
fig.text(2059 / FW, 1 - 731 / FH, note_text, ha='left', va='top', fontsize=23,
         fontweight='bold', family='DejaVu Sans', linespacing=1.28)

fig.patches.append(Rectangle((1509.5 / FW, 1 - 1424.5 / FH), 602 / FW, 77 / FH,
                             transform=fig.transFigure, fill=False, edgecolor='#3d62a3', lw=6.5))
fig.text(1810 / FW, 1 - 1403 / FH, title_text, ha='center', va='baseline', fontsize=28.5,
         fontweight='bold', family='Liberation Sans')
fig.text(2543 / FW, 1 - 1424 / FH, credit_text, ha='right', va='baseline', fontsize=26.5,
         family='Liberation Sans', color='#808080')

fig.savefig('out.png', dpi=100, facecolor='white')
